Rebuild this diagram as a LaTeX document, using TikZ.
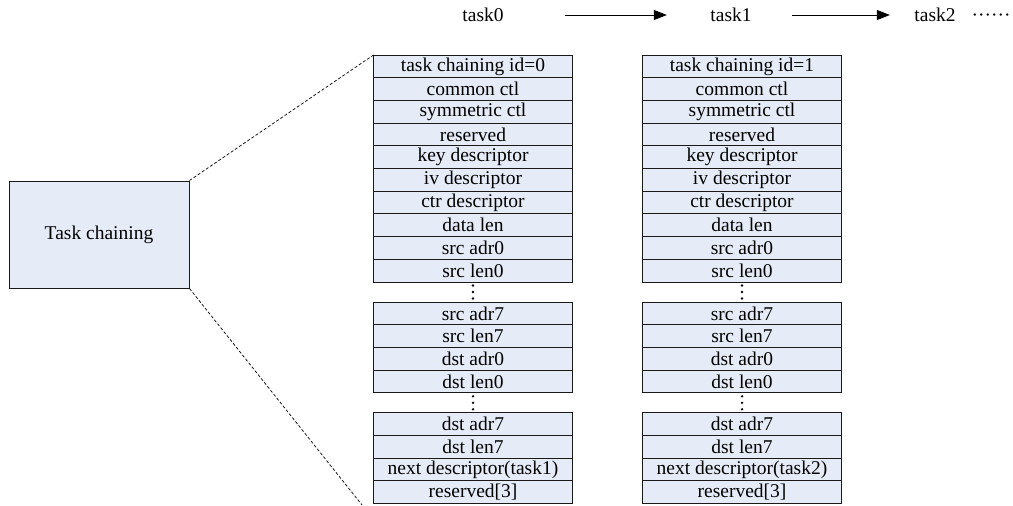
\documentclass[tikz,border=0pt]{standalone}
\usepackage{fontspec}
\setmainfont{Liberation Serif}
\usetikzlibrary{positioning, arrows.meta}

\definecolor{fieldblue}{RGB}{230,236,247}

\begin{document}
\begin{tikzpicture}[
    % GLOBAL CFG
    x=1pt, y=-1pt,
    font=\fontsize{19.5}{23}\selectfont,
    >={Triangle[length=13pt,width=10pt]},
    % Styles
    field/.style={% One row of a descriptor
        rectangle,
        draw=black!90,
        fill=fieldblue,
        line width=1pt,
        minimum width=199pt,
        minimum height=22.7pt,
        inner sep=0pt,
        outer sep=0pt,
        },
    gapbox/.style={% Empty room for the dots
        rectangle,
        minimum width=199pt,
        minimum height=20pt,
        inner sep=0pt,
        outer sep=0pt,
        },
    mainbox/.style={% For the Task chaining box
        rectangle,
        draw=black!90,
        fill=fieldblue,
        line width=1pt,
        minimum width=180pt,
        minimum height=107pt,
        },
    zoomline/.style={% Dashed lines to the descriptor
        dash pattern=on 3pt off 2pt,
        line width=0.7pt,
        },
    ArrowT/.style={% Arrows between tasks
        ->,
        line width=0.9pt,
        },
    ]

    % Canvas
    \useasboundingbox (0,0) rectangle (1013,506);

    % Task chaining box
    \node [mainbox] (taskbox) at (99,234.5) {Task chaining};

    % Chain of tasks on top
    \node (task0) at (483,15) {task0};
    \node (task1) at (731,15) {task1};
    \node (task2) at (935,15) {task2};
    \node [base right=9pt of task2] (more) {······};

    \draw [ArrowT, shorten <=58pt, shorten >=40pt] (task0) -- (task1);
    \draw [ArrowT, shorten <=37pt, shorten >=21pt] (task1) -- (task2);

    % Descriptor of task0
    \node [field] (id_0) at (473,66.35) {task chaining id=0};
    \node [field, below=0pt of id_0] (common_0) {common ctl};
    \node [field, below=0pt of common_0] (sym_0) {symmetric ctl};
    \node [field, below=0pt of sym_0] (rsv_0) {reserved};
    \node [field, below=0pt of rsv_0] (key_0) {key descriptor};
    \node [field, below=0pt of key_0] (iv_0) {iv descriptor};
    \node [field, below=0pt of iv_0] (ctr_0) {ctr descriptor};
    \node [field, below=0pt of ctr_0] (dlen_0) {data len};
    \node [field, below=0pt of dlen_0] (sadr0_0) {src adr0};
    \node [field, below=0pt of sadr0_0] (slen0_0) {src len0};
    \node [gapbox, below=0pt of slen0_0] (dots_s_0) {};
    \node [field, below=0pt of dots_s_0] (sadr7_0) {src adr7};
    \node [field, below=0pt of sadr7_0] (slen7_0) {src len7};
    \node [field, below=0pt of slen7_0] (dadr0_0) {dst adr0};
    \node [field, below=0pt of dadr0_0] (dlen0_0) {dst len0};
    \node [gapbox, below=0pt of dlen0_0] (dots_d_0) {};
    \node [field, below=0pt of dots_d_0] (dadr7_0) {dst adr7};
    \node [field, below=0pt of dadr7_0] (dlen7_0) {dst len7};
    \node [field, below=0pt of dlen7_0] (next_0) {next descriptor(task1)};
    \node [field, below=0pt of next_0] (rsv3_0) {reserved[3]};

    % Descriptor of task1
    \node [field] (id_1) at (742,66.35) {task chaining id=1};
    \node [field, below=0pt of id_1] (common_1) {common ctl};
    \node [field, below=0pt of common_1] (sym_1) {symmetric ctl};
    \node [field, below=0pt of sym_1] (rsv_1) {reserved};
    \node [field, below=0pt of rsv_1] (key_1) {key descriptor};
    \node [field, below=0pt of key_1] (iv_1) {iv descriptor};
    \node [field, below=0pt of iv_1] (ctr_1) {ctr descriptor};
    \node [field, below=0pt of ctr_1] (dlen_1) {data len};
    \node [field, below=0pt of dlen_1] (sadr0_1) {src adr0};
    \node [field, below=0pt of sadr0_1] (slen0_1) {src len0};
    \node [gapbox, below=0pt of slen0_1] (dots_s_1) {};
    \node [field, below=0pt of dots_s_1] (sadr7_1) {src adr7};
    \node [field, below=0pt of sadr7_1] (slen7_1) {src len7};
    \node [field, below=0pt of slen7_1] (dadr0_1) {dst adr0};
    \node [field, below=0pt of dadr0_1] (dlen0_1) {dst len0};
    \node [gapbox, below=0pt of dlen0_1] (dots_d_1) {};
    \node [field, below=0pt of dots_d_1] (dadr7_1) {dst adr7};
    \node [field, below=0pt of dadr7_1] (dlen7_1) {dst len7};
    \node [field, below=0pt of dlen7_1] (next_1) {next descriptor(task2)};
    \node [field, below=0pt of next_1] (rsv3_1) {reserved[3]};

    % Vertical dots in the gaps
    \foreach \g in {dots_s_0, dots_d_0, dots_s_1, dots_d_1}
        \foreach \d in {-6.5, 0, 6.5}
            \fill (\g.center) ++(0,\d) circle (1.3pt);

    % Zoom lines
    \coordinate (zoom_end) at (362,505);
    \draw [zoomline] (taskbox.north east) -- (id_0.north west);
    \draw [zoomline] (taskbox.south east) -- (zoom_end);

\end{tikzpicture}
\end{document}
